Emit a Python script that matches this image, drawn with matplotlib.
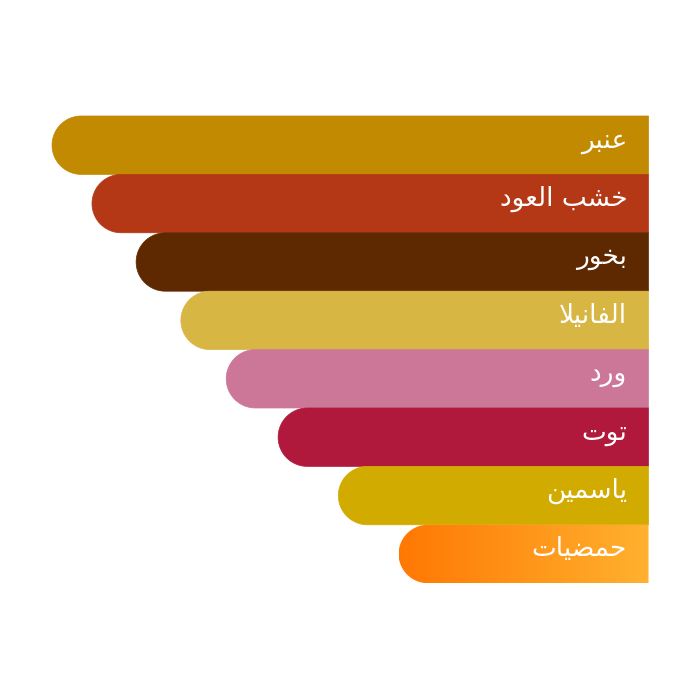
import numpy as np
import matplotlib
matplotlib.use("Agg")
import matplotlib.pyplot as plt
from matplotlib.path import Path
from matplotlib.patches import PathPatch
from matplotlib.colors import LinearSegmentedColormap

# ---- data ----
categories = ["عنبر", "خشب العود", "بخور", "الفانيلا", "ورد", "توت", "ياسمين", "حمضيات"]
values = [100, 93.3, 85.9, 78.4, 70.8, 62.1, 52.0, 41.9]
colors = ["#C28A00", "#B43716", "#5E2800", "#D8B643", "#CC7798", "#B0183C", "#D2AB00", None]
gradient_colors = ["#FF7803", "#FFB12F"]

# ---- minimal Arabic shaping (presentation forms) ----
FORMS = {  # isolated, final, initial, medial
    "ا": ("\uFE8D", "\uFE8E", None, None),
    "ب": ("\uFE8F", "\uFE90", "\uFE91", "\uFE92"),
    "ت": ("\uFE95", "\uFE96", "\uFE97", "\uFE98"),
    "ح": ("\uFEA1", "\uFEA2", "\uFEA3", "\uFEA4"),
    "خ": ("\uFEA5", "\uFEA6", "\uFEA7", "\uFEA8"),
    "د": ("\uFEA9", "\uFEAA", None, None),
    "ر": ("\uFEAD", "\uFEAE", None, None),
    "س": ("\uFEB1", "\uFEB2", "\uFEB3", "\uFEB4"),
    "ش": ("\uFEB5", "\uFEB6", "\uFEB7", "\uFEB8"),
    "ض": ("\uFEBD", "\uFEBE", "\uFEBF", "\uFEC0"),
    "ع": ("\uFEC9", "\uFECA", "\uFECB", "\uFECC"),
    "ف": ("\uFED1", "\uFED2", "\uFED3", "\uFED4"),
    "ل": ("\uFEDD", "\uFEDE", "\uFEDF", "\uFEE0"),
    "م": ("\uFEE1", "\uFEE2", "\uFEE3", "\uFEE4"),
    "ن": ("\uFEE5", "\uFEE6", "\uFEE7", "\uFEE8"),
    "و": ("\uFEED", "\uFEEE", None, None),
    "ي": ("\uFEF1", "\uFEF2", "\uFEF3", "\uFEF4"),
}


def shape(text):
    # lam-alef ligature
    chars = []
    i = 0
    while i < len(text):
        if text[i] == "ل" and i + 1 < len(text) and text[i + 1] == "ا":
            chars.append("LA")
            i += 2
        else:
            chars.append(text[i])
            i += 1

    def joins_left(c):  # can connect to following letter
        if c == "LA" or c not in FORMS:
            return False
        return FORMS[c][2] is not None

    out = []
    for k, c in enumerate(chars):
        prev = chars[k - 1] if k > 0 else None
        nxt = chars[k + 1] if k + 1 < len(chars) else None
        conn_prev = prev is not None and joins_left(prev)
        if c == "LA":
            out.append("\uFEFC" if conn_prev else "\uFEFB")
            continue
        if c not in FORMS:
            out.append(c)
            continue
        conn_next = nxt is not None and (nxt in FORMS or nxt == "LA") and joins_left(c)
        iso, fin, ini, med = FORMS[c]
        if conn_prev and conn_next:
            out.append(med)
        elif conn_prev:
            out.append(fin)
        elif conn_next:
            out.append(ini)
        else:
            out.append(iso)
    return "".join(reversed(out))


fig = plt.figure(figsize=(7, 7), dpi=100)
ax = fig.add_axes([0, 0, 1, 1])
ax.set_xlim(108.72, -8.63)
ax.set_ylim(9.5, -2.486)
ax.axis("off")
fig.canvas.draw()

# radius of rounded end in x data units (half bar height in pixels)
p0 = ax.transData.transform((0, 0))
p1 = ax.transData.transform((1, 1))
px_per_x = abs(p1[0] - p0[0])
px_per_y = abs(p1[1] - p0[1])
h = 1.0
rx = (h / 2) * px_per_y / px_per_x

theta = np.linspace(-np.pi / 2, np.pi / 2, 60)
for i, (cat, v, col) in enumerate(zip(categories, values, colors)):
    cx = v - rx
    top, bot = i - h / 2, i + h / 2
    arc_x = cx + rx * np.cos(theta)
    arc_y = i + (h / 2) * np.sin(theta)
    verts = [(0, top), (cx, top)] + list(zip(arc_x, arc_y)) + [(cx, bot), (0, bot), (0, top)]
    codes = [Path.MOVETO] + [Path.LINETO] * (len(verts) - 2) + [Path.CLOSEPOLY]
    path = Path(verts, codes)
    if col is not None:
        patch = PathPatch(path, facecolor=col, edgecolor=col, lw=0.5)
        ax.add_patch(patch)
    else:
        patch = PathPatch(path, facecolor="none", edgecolor="none")
        ax.add_patch(patch)
        cmap = LinearSegmentedColormap.from_list("g", gradient_colors)
        grad = np.linspace(0, 1, 256).reshape(1, -1)
        im = ax.imshow(grad, cmap=cmap, aspect="auto", extent=(v, 0, bot, top),
                       interpolation="bicubic", zorder=1)
        im.set_clip_path(patch)
    ax.text(3.6, i - 0.08, shape(cat), color="white", fontsize=19,
            ha="right", va="center", family=["DejaVu Sans"], zorder=3)

ax.set_xlim(108.72, -8.63)
ax.set_ylim(9.5, -2.486)
fig.savefig("out.png", dpi=100, facecolor="white")
